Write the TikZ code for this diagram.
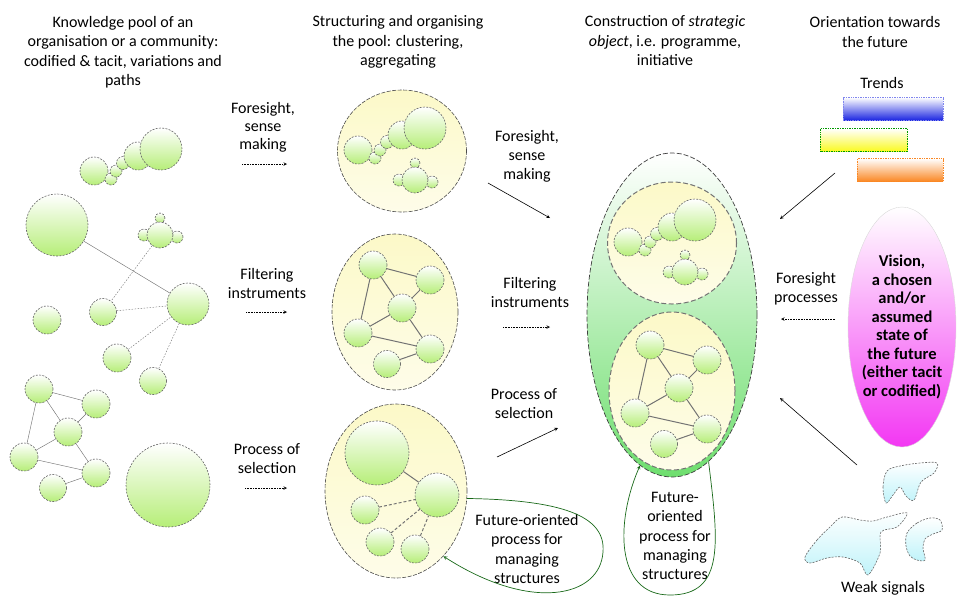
\documentclass[tikz,border=0pt]{standalone}
\usepackage{fontspec}
\setmainfont{Carlito}
\usetikzlibrary{shapes.geometric}

\definecolor{leaf}{RGB}{182,238,120}
\definecolor{cream}{RGB}{252,249,200}
\definecolor{sprout}{RGB}{110,222,110}
\definecolor{orchid}{RGB}{243,55,243}
\definecolor{ice}{RGB}{190,243,250}
\definecolor{deepblue}{RGB}{25,35,225}
\definecolor{lemon}{RGB}{250,250,30}
\definecolor{tangerine}{RGB}{250,135,35}
\definecolor{forest}{RGB}{25,105,25}

\tikzset{
  bubble/.style={circle, inner sep=0pt, draw=black!60, line width=0.6pt,
    dash pattern=on 2pt off 1.3pt, top color=white, bottom color=leaf},
  pool/.style={ellipse, inner sep=0pt, draw=black!70, line width=0.6pt,
    dash pattern=on 4pt off 1.5pt, top color=cream, bottom color=cream!40!white},
  link/.style={draw=black!55},
  dlink/.style={link, dash pattern=on 1.5pt off 1.5pt},
  flow/.style={-stealth, line width=0.6pt},
  hflow/.style={-stealth, line width=0.6pt, densely dotted},
  cycleflow/.style={-stealth, draw=forest, line width=0.7pt},
  txt/.style={align=center, font=\fontsize{16}{19.5}\selectfont},
  trendbar/.style={rectangle, inner sep=0pt, minimum height=23pt, line width=0.7pt, densely dotted},
  blob/.style={draw=black!60, line width=0.6pt, dash pattern=on 2pt off 1.3pt,
    top color=white, bottom color=ice}
}

\begin{document}
\begin{tikzpicture}[x=1pt, y=-1pt]
  \useasboundingbox (0,0) rectangle (957,603);

  % 1. Headings
  \node[txt] (head1) at (123,52) {Knowledge pool of an\\organisation or a community:\\codified \& tacit, variations and\\paths};
  \node[txt] (head2) at (398,42) {Structuring and organising\\the pool: clustering,\\aggregating};
  \node[txt] (head3) at (665,41) {Construction of \textit{strategic}\\\textit{object}, i.e. programme,\\initiative};
  \node[txt] (head4) at (875,32) {Orientation towards\\the future};

  % 2. The big ellipses (pools and strategic object)
  \node[pool, minimum width=129pt, minimum height=122pt] (pool1) at (402,151) {};
  \node[pool, minimum width=126pt, minimum height=156pt] (pool2) at (395,312) {};
  \node[pool, minimum width=142pt, minimum height=174pt] (pool3) at (396,491) {};
  \node[ellipse, inner sep=0pt, draw=black!75, line width=0.7pt, dash pattern=on 5pt off 2pt,
        top color=white, bottom color=sprout, minimum width=170pt, minimum height=324pt] (strat) at (672,315) {};
  \node[pool, draw=black!55, line width=1pt, dash pattern=on 5pt off 2.5pt,
        minimum width=129pt, minimum height=122pt] (strat1) at (672,243) {};
  \node[pool, draw=black!55, line width=1pt, dash pattern=on 5pt off 2.5pt,
        minimum width=126pt, minimum height=158pt] (strat2) at (672,391) {};

  % 3. Repeated clusters: chain, trio and network
  \foreach \g/\x/\y in {l/161/149, m/425/128, c/695/220} {
    \begin{scope}[shift={(\x,\y)}]
      \node[bubble, minimum size=28pt] (\g cl) at (-67,22) {};
      \node[bubble, minimum size=12pt] (\g c1) at (-50,30) {};
      \node[bubble, minimum size=12pt] (\g c2) at (-45,22) {};
      \node[bubble, minimum size=13pt] (\g c3) at (-38,14) {};
      \node[bubble, minimum size=28pt] (\g cm) at (-23,7) {};
      \node[bubble, minimum size=42pt] (\g cb) at (0,0) {};
    \end{scope}
  }
  \foreach \g/\x/\y in {l/160/235, m/415/180, c/685/272} {
    \begin{scope}[shift={(\x,\y)}]
      \node[bubble, minimum size=10pt] (\g tt) at (0,-17) {};
      \node[bubble, minimum size=12pt] (\g tl) at (-16,0) {};
      \node[bubble, minimum size=12pt] (\g tr) at (17,2) {};
      \node[bubble, minimum size=26pt] (\g tm) at (0,0) {};
    \end{scope}
  }
  \foreach \g/\x/\y/\w in {l/39/389/0.45, m/373/265/1, c/650/345/1} {
    \begin{scope}[shift={(\x,\y)}]
      \node[bubble, minimum size=28pt] (\g A) at (0,0) {};
      \node[bubble, minimum size=28pt] (\g B) at (57,15) {};
      \node[bubble, minimum size=28pt] (\g C) at (29,43) {};
      \node[bubble, minimum size=28pt] (\g D) at (-15,68) {};
      \node[bubble, minimum size=28pt] (\g E) at (57,84) {};
      \node[bubble, minimum size=27pt] (\g F) at (14,99) {};
    \end{scope}
    \foreach \u/\v in {A/B, A/C, A/D, C/B, C/D, C/E, D/E, F/E}
      \draw[link, line width=\w pt] (\g\u) -- (\g\v);
  }

  % 4. Knowledge pool: loose bubbles
  \node[bubble, minimum size=62pt] (kbig) at (57,225) {};
  \node[bubble, minimum size=42pt] (khub) at (188,304) {};
  \node[bubble, minimum size=27pt] (kmid) at (103,312) {};
  \node[bubble, minimum size=28pt] (klone) at (47,320) {};
  \node[bubble, minimum size=28pt] (klow) at (117,358) {};
  \node[bubble, minimum size=27pt] (klowr) at (153,381) {};
  \node[bubble, minimum size=84pt] (kgiant) at (168,485) {};
  \draw[link, line width=0.45pt] (kbig) -- (khub);
  \draw[dlink, line width=0.45pt] (ltm) -- (kmid);
  \foreach \n in {kmid, klow, klowr}
    \draw[dlink, line width=0.45pt] (\n) -- (khub);

  % selected structure
  \node[bubble, minimum size=64pt] (sbig) at (377,453) {};
  \node[bubble, minimum size=44pt] (shub) at (437,495) {};
  \node[bubble, minimum size=28pt] (sa) at (365,510) {};
  \node[bubble, minimum size=28pt] (sb) at (380,542) {};
  \node[bubble, minimum size=28pt] (sc) at (415,549) {};
  \draw[link, line width=1pt] (sbig) -- (shub);
  \foreach \n in {sa, sb, sc}
    \draw[link, line width=1pt, dash pattern=on 3pt off 2pt] (\n) -- (shub);

  % 5. Orientation towards the future
  \node[txt] (trends) at (882,83) {Trends};
  \node[trendbar, draw=deepblue!55, top color=white, bottom color=deepblue, minimum width=100pt] (tblue) at (893,109) {};
  \node[trendbar, draw=green!60!black, top color=white, bottom color=lemon, minimum width=87pt] (tyellow) at (864,140) {};
  \node[trendbar, draw=tangerine, top color=white, bottom color=tangerine, minimum width=86pt] (torange) at (900,170) {};

  \node[ellipse, inner sep=0pt, draw=black!15, top color=white, bottom color=orchid,
        minimum width=108pt, minimum height=240pt] (vis) at (902,327) {};
  \node[align=center, font=\fontsize{16.5}{18.5}\selectfont\bfseries] (vistext) at (vis)
    {Vision,\\a chosen\\and/or\\assumed\\state of\\the future\\(either tacit\\or codified)};

  \draw[blob] plot[smooth cycle, tension=0.55] coordinates {(886,503) (883,487) (887,471) (900,466) (920,463) (937,463)
    (934,473) (921,482) (914,500) (906,496) (900,487) (893,495)};
  \draw[blob] plot[smooth cycle, tension=0.55] coordinates {(805,557) (817,540) (830,527) (842,517) (860,520) (873,521)
    (887,517) (907,513) (897,527) (881,532) (880,553) (868,575) (860,563) (843,557) (827,558) (810,563)};
  \draw[blob] plot[smooth cycle, tension=0.55] coordinates {(907,533) (917,523) (930,518) (940,520) (942,530) (933,534)
    (925,539) (923,548) (925,560) (917,560) (910,556) (906,546)};
  \node[txt] (weak) at (883,588) {Weak signals};

  % 6. Arrows and their labels
  \node[txt, font=\fontsize{16}{18}\selectfont] (fsl) at (263,127) {Foresight,\\sense\\making};
  \node[txt, font=\fontsize{16}{19}\selectfont] (fil) at (267,283) {Filtering\\instruments};
  \node[txt, font=\fontsize{16}{19}\selectfont] (sel) at (267,459) {Process of\\selection};
  \node[txt, font=\fontsize{16}{19}\selectfont] (fsr) at (527,156) {Foresight,\\sense\\making};
  \node[txt, font=\fontsize{16}{19}\selectfont] (fir) at (530,292) {Filtering\\instruments};
  \node[txt, font=\fontsize{16}{19}\selectfont] (ser) at (524,404) {Process of\\selection};
  \node[txt, font=\fontsize{16}{19}\selectfont] (fpr) at (806,289) {Foresight\\processes};
  \node[txt, font=\fontsize{16}{19.3}\selectfont] (fut1) at (527,549) {Future-oriented\\process for\\managing\\structures};
  \node[txt, font=\fontsize{16}{19.3}\selectfont] (fut2) at (675,536) {Future-\\oriented\\process for\\managing\\structures};

  \coordinate (fs1) at (242,164); \coordinate (fs2) at (287,164);
  \coordinate (fi1) at (246,312); \coordinate (fi2) at (287,312);
  \coordinate (se1) at (245,488); \coordinate (se2) at (287,488);
  \coordinate (fs3) at (488,183); \coordinate (fs4) at (550,218);
  \coordinate (fi3) at (503,327); \coordinate (fi4) at (550,327);
  \coordinate (se3) at (497,457); \coordinate (se4) at (558,428);
  \coordinate (tr1) at (835,173); \coordinate (tr2) at (780,219);
  \coordinate (fp1) at (835,319); \coordinate (fp2) at (781,319);
  \coordinate (ws1) at (857,465); \coordinate (ws2) at (780,398);
  \foreach \a/\b in {fs1/fs2, fi1/fi2, se1/se2, fi3/fi4, fp1/fp2}
    \draw[hflow] (\a) -- (\b);
  \foreach \a/\b in {fs3/fs4, se3/se4, tr1/tr2, ws1/ws2}
    \draw[flow] (\a) -- (\b);

  % feedback loops
  \coordinate (lp1) at (603,552);
  \coordinate (lp2) at (670,595);
  \draw[cycleflow] (pool3.-6) .. controls (560,500) and (606,515) .. (lp1)
    .. controls (600,598) and (530,612) .. (pool3.-54);
  \draw[cycleflow] (strat.-76) .. controls (718,540) and (726,595) .. (lp2)
    .. controls (614,595) and (616,520) .. (strat.-102);
\end{tikzpicture}
\end{document}
